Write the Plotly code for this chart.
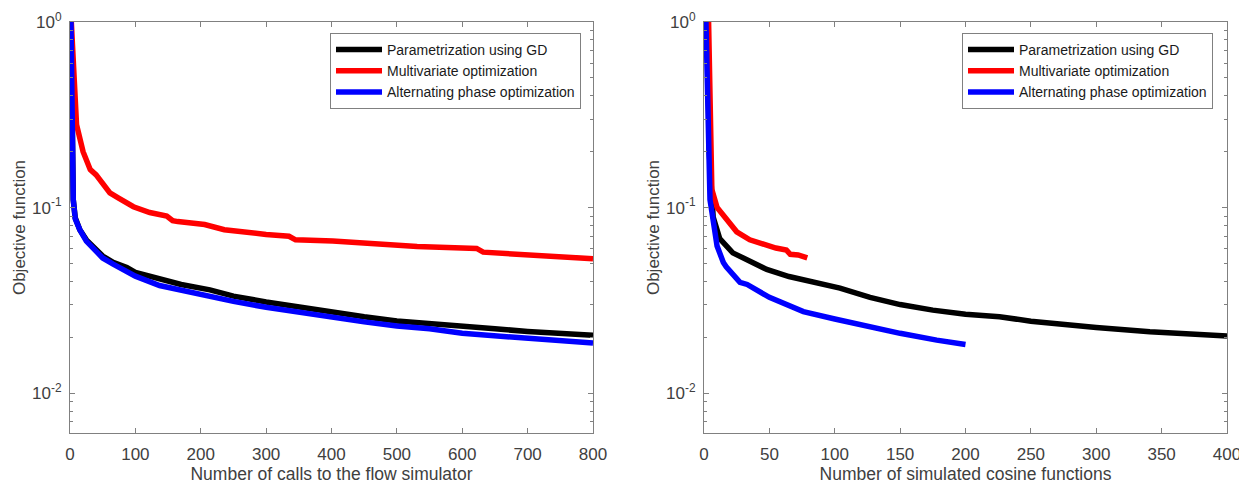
import plotly.graph_objects as go

# ------------------------
# Data
# ------------------------
names = ["Parametrization using GD", "Multivariate optimization", "Alternating phase optimization"]
colors = ["#000000", "#ff0000", "#0000ff"]

# left panel: number of calls to the flow simulator
calls_gd = [1.5, 3, 5, 8, 15, 25, 35, 50, 66, 87, 100, 137, 170, 214, 250, 300, 350, 400, 450, 500, 550, 600, 650, 700, 750, 800]
obj_gd = [1, 0.2, 0.11, 0.088, 0.076, 0.067, 0.062, 0.0548, 0.0506, 0.0475, 0.0447, 0.0415, 0.0385, 0.036, 0.0333, 0.031, 0.029, 0.0272, 0.0258, 0.0245, 0.0238, 0.0232, 0.0222, 0.0215, 0.021, 0.0205]

calls_mv = [2, 6, 10, 20, 31, 40, 46, 61, 75, 87, 97, 122, 148, 157, 165, 206, 225, 236, 300, 335, 345, 402, 531, 622, 632, 700, 800]
obj_mv = [1, 0.5, 0.28, 0.2, 0.16, 0.15, 0.141, 0.12, 0.112, 0.106, 0.101, 0.094, 0.09, 0.085, 0.084, 0.081, 0.078, 0.076, 0.0716, 0.070, 0.067, 0.066, 0.0617, 0.0602, 0.0575, 0.056, 0.053]

calls_ap = [1.5, 3, 5, 8, 15, 25, 35, 50, 66, 87, 100, 137, 170, 214, 250, 300, 350, 400, 450, 500, 550, 600, 650, 700, 750, 800]
obj_ap = [1, 0.2, 0.11, 0.087, 0.076, 0.066, 0.061, 0.0535, 0.0495, 0.045, 0.0427, 0.038, 0.0358, 0.033, 0.0312, 0.029, 0.0272, 0.0256, 0.0242, 0.023, 0.0222, 0.021, 0.0203, 0.0197, 0.0191, 0.0186]

# right panel: number of simulated cosine functions
cos_gd = [2.5, 4, 7, 12, 22, 33, 48, 65, 81, 104, 127, 150, 175, 200, 226, 250, 300, 341, 400]
objc_gd = [1, 0.2, 0.089, 0.068, 0.057, 0.052, 0.0464, 0.0425, 0.040, 0.0368, 0.0328, 0.030, 0.028, 0.0266, 0.0258, 0.0244, 0.0226, 0.0214, 0.0203]

cos_mv = [3.5, 5, 6, 10, 17.5, 25, 35, 45, 55, 63, 66, 72, 79]
objc_mv = [1, 0.2, 0.125, 0.1, 0.086, 0.074, 0.067, 0.0635, 0.0605, 0.059, 0.056, 0.0555, 0.0535]

cos_ap = [1.5, 3, 4.6, 6, 8.4, 10, 14.8, 17, 27.5, 33, 50, 76, 100, 127, 150, 178, 200]
objc_ap = [1, 0.25, 0.11, 0.095, 0.07, 0.062, 0.0506, 0.048, 0.0395, 0.0385, 0.0328, 0.0275, 0.0251, 0.0226, 0.021, 0.0193, 0.0183]

ytick_vals = [0.01, 0.1, 1]
ytick_text = ["10<sup>-2</sup>", "10<sup>-1</sup>", "10<sup>0</sup>"]
minor_vals = [m * d for d in [0.001, 0.01, 0.1] for m in range(2, 10)]

font_family = "Liberation Sans"
axis_grey = "#808080"
label_grey = "#404040"

fig = go.Figure()

left = [(calls_gd, obj_gd), (calls_mv, obj_mv), (calls_ap, obj_ap)]
right = [(cos_gd, objc_gd), (cos_mv, objc_mv), (cos_ap, objc_ap)]

for (x, y), name, col in zip(left, names, colors):
    fig.add_trace(go.Scatter(
        x=x, y=y, mode="lines", name=name,
        line=dict(color=col, width=5.5),
        xaxis="x", yaxis="y", legend="legend"
    ))

for (x, y), name, col in zip(right, names, colors):
    fig.add_trace(go.Scatter(
        x=x, y=y, mode="lines", name=name,
        line=dict(color=col, width=5.5),
        xaxis="x2", yaxis="y2", legend="legend2"
    ))

# plot area in pixels (page body adds an 8px offset)
W, H = 1239, 477
ML, MR, MT, MB = 62, 20, 14, 52
PW = W - ML - MR
PH = H - MT - MB

common_x = dict(
    showline=True, linecolor=axis_grey, linewidth=1, mirror="ticks",
    ticks="inside", ticklen=5, tickcolor=axis_grey,
    showgrid=False, zeroline=False, automargin=False,
    ticklabelstandoff=6,
    tickfont=dict(size=17, color=label_grey, family=font_family),
)
common_y = dict(
    type="log", range=[-2.215, 0],
    showline=True, linecolor=axis_grey, linewidth=1, mirror="ticks",
    ticks="inside", ticklen=5, tickcolor=axis_grey,
    tickmode="array", tickvals=ytick_vals, ticktext=ytick_text,
    minor=dict(tickmode="array", tickvals=minor_vals, ticks="inside",
               ticklen=3, tickcolor=axis_grey, showgrid=False),
    showgrid=False, zeroline=False, automargin=False,
    ticklabelstandoff=4,
    tickfont=dict(size=17, color=label_grey, family=font_family),
    title=dict(text="Objective function", standoff=2,
               font=dict(size=17, color=label_grey, family=font_family)),
)

common_legend = dict(
    xanchor="right", yanchor="top",
    bgcolor="white", bordercolor=axis_grey, borderwidth=1,
    font=dict(size=14, color="#1a1a1a", family=font_family),
    itemwidth=46, tracegroupgap=0, traceorder="normal",
)

x_title_font = dict(size=17.5, color=label_grey, family=font_family)

fig.update_layout(
    width=W, height=H,
    margin=dict(l=ML, r=MR, t=MT, b=MB, autoexpand=False),
    paper_bgcolor="white", plot_bgcolor="white",
    font=dict(family=font_family),
    showlegend=True,
    xaxis=dict(domain=[0, 523 / PW], range=[0, 800], dtick=100, anchor="y",
               title=dict(text="Number of calls to the flow simulator",
                          font=x_title_font, standoff=0),
               **common_x),
    yaxis=dict(domain=[0, 1], anchor="x", **common_y),
    xaxis2=dict(domain=[(704 - 70) / PW, 1], range=[0, 400], dtick=50, anchor="y2",
                title=dict(text="Number of simulated cosine functions",
                           font=x_title_font, standoff=0),
                **common_x),
    yaxis2=dict(domain=[0, 1], anchor="x2", **common_y),
    legend=dict(x=(581 - 70) / PW, y=1 - (33 - 22) / PH, **common_legend),
    legend2=dict(x=(1213 - 70) / PW, y=1 - (33 - 22) / PH, **common_legend),
)

fig.write_html("out.html")
